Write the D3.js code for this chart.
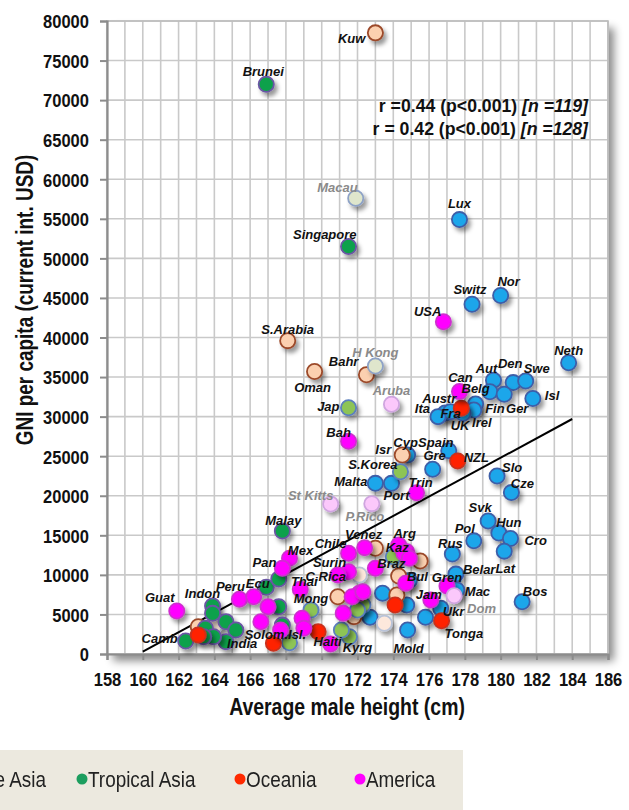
<!DOCTYPE html>
<html>
<head>
<meta charset="utf-8">
<script src="https://cdn.jsdelivr.net/npm/d3@7/dist/d3.min.js"></script>
<style>
  html, body { margin: 0; padding: 0; background: #ffffff; }
  svg { display: block; }
</style>
</head>
<body>
<svg id="chart" width="629" height="810"></svg>
<script>
// ---- data: [label, average male height (cm), GNI per capita (int. USD)] ----
const europe = [
  ["Lux", 177.7, 54900], ["Switz", 178.4, 44200], ["Nor", 180.0, 45300],
  ["Neth", 183.8, 36800], ["Aut", 179.6, 34600], ["Den", 180.7, 34300],
  ["Swe", 181.4, 34500], ["Fin", 179.4, 33150], ["Ger", 180.2, 32830],
  ["Isl", 181.8, 32300], ["Belg", 178.6, 31600], ["Irel", 178.5, 30840],
  ["", 176.9, 30450], ["Fra", 177.2, 30630], ["UK", 177.9, 30420],
  ["Ita", 176.5, 30000], ["Spain", 177.1, 25700], ["Gre", 176.2, 23350],
  ["Cyp", 174.8, 25150], ["Malta", 173.0, 21570], ["Port", 173.9, 21570],
  ["Slo", 179.8, 22500], ["Cze", 180.6, 20400], ["Svk", 179.3, 16800],
  ["Hun", 179.9, 15300], ["Cro", 180.55, 14600], ["Pol", 178.5, 14300],
  ["Lat", 180.2, 13000], ["Rus", 177.3, 12640], ["Belar", 177.5, 10100],
  ["Mac", 177.55, 8090], ["Ukr", 176.65, 5780], ["Bos", 181.2, 6610],
  ["", 175.8, 4640], ["Mold", 174.8, 3030], ["", 173.4, 7670],
  ["", 174.75, 6190], ["", 172.7, 4640], ["Bul", 174.9, 9300]
];
const middleEast = [
  ["Kuw", 173.0, 78500], ["S.Arabia", 168.1, 39600], ["Oman", 169.6, 35700],
  ["Bahr", 172.5, 35300], ["Isr", 174.5, 25150], ["", 173.0, 13360],
  ["", 175.5, 11760], ["", 174.3, 9860], ["", 174.2, 7460],
  ["", 170.9, 7240], ["", 171.8, 4720], ["", 163.1, 3450]
];
const otherRegions = [
  ["", 172.1, 9990], ["", 173.5, 3880], ["", 164.0, 3540]
];
const chinaSars = [
  ["Macau", 171.9, 57600], ["H Kong", 173.0, 36400]
];
const temperateAsia = [
  ["Jap", 171.5, 31130], ["S.Korea", 174.4, 23040], ["Kaz", 174.0, 12300],
  ["Mong", 169.4, 5560], ["Kyrg", 171.55, 2190], ["", 171.1, 3030],
  ["", 172.3, 6190], ["", 172.0, 5560], ["", 168.2, 1430]
];
const tropicalAsia = [
  ["Brunei", 166.9, 72000], ["Singapore", 171.5, 51500], ["Malay", 167.8, 15550],
  ["Indon", 163.9, 6070], ["", 163.9, 5140], ["", 166.9, 8430],
  ["", 167.6, 9480], ["", 167.6, 5980], ["", 167.8, 3650],
  ["Camb", 162.4, 1640], ["", 163.5, 3250], ["", 164.65, 4080],
  ["", 165.2, 3030], ["India", 164.65, 1560], ["", 163.95, 2190],
  ["", 163.4, 2190]
];
const oceania = [
  ["Austr", 177.8, 31060], ["NZL", 177.6, 24400], ["Tonga", 176.7, 4210],
  ["Solom.Isl.", 167.3, 1350], ["", 169.8, 2820], ["", 163.1, 2400],
  ["", 174.1, 6190]
];
const america = [
  ["USA", 176.8, 42000], ["Can", 177.7, 33160], ["Bah", 171.5, 26900],
  ["Trin", 175.3, 20390], ["Chile", 171.5, 12730], ["Venez", 172.4, 13440],
  ["Arg", 174.3, 13780], ["", 174.75, 12930], ["", 174.6, 12730],
  ["", 174.9, 12100], ["Braz", 173.0, 10830], ["Surin", 171.5, 10400],
  ["C.Rica", 170.9, 9990], ["", 174.7, 8940], ["Gren", 177.0, 8600],
  ["Jam", 176.1, 6830], ["Mex", 168.2, 12100], ["Pan", 167.8, 10830],
  ["Thai", 168.8, 8180], ["Guat", 161.9, 5435], ["Peru", 165.4, 6910],
  ["Ecu", 166.2, 7240], ["", 167.0, 5980], ["", 166.6, 4080],
  ["", 167.7, 3030], ["", 168.9, 4510], ["", 169.0, 3250],
  ["Haiti", 170.5, 1260], ["", 171.2, 5140], ["", 172.1, 7670],
  ["", 171.7, 7240], ["", 172.3, 7870]
];
const caribbeanIslands = [
  ["Aruba", 173.9, 31560], ["St Kitts", 170.5, 18960],
  ["P.Rico", 172.8, 19000], ["Dom", 177.4, 7370]
];

// regression line end points (height, GNI)
const trendHeights = [160, 184];
const trendGni = [300, 29700];

// axis ticks
const xTicks = d3.range(158, 187, 2);
const yTicks = d3.range(0, 80001, 5000);

const statLines = [
  ["r =0.44 (p<0.001) ", "[n =119]"],
  ["r = 0.42 (p<0.001)  ", "[n =128]"]
];

const legendLabels = ["Temperate Asia", "Tropical Asia", "Oceania", "America"];

// ---- styles per region ----
const regionStyle = {
  europe:        { fill: "#1ba6ea", stroke: "#3e5ea8" },
  otherRegions:  { fill: "#fde8dc", stroke: "#b9c3d8" },
  middleEast:    { fill: "#fbd0b0", stroke: "#9c4a2a" },
  chinaSars:     { fill: "#dfe6cc", stroke: "#8ea2c6" },
  temperateAsia: { fill: "#8dc455", stroke: "#5b7fbd" },
  tropicalAsia:  { fill: "#10a14c", stroke: "#6a55a4" },
  oceania:       { fill: "#ff2300", stroke: "#c8301c" },
  america:       { fill: "#ff00ff", stroke: "#cf2fcf" },
  caribbean:     { fill: "#fbc8fb", stroke: "#cfa5df" }
};
const drawOrder = [
  ["europe", europe], ["otherRegions", otherRegions], ["middleEast", middleEast],
  ["chinaSars", chinaSars], ["temperateAsia", temperateAsia],
  ["tropicalAsia", tropicalAsia], ["oceania", oceania],
  ["america", america], ["caribbean", caribbeanIslands]
];
const greyLabels = new Set(["Macau", "H Kong", "Aruba", "St Kitts", "P.Rico", "Dom"]);

// label placement relative to each marker: [anchor, dx, dy]
const labelPlacement = {
  "Brunei": ["middle", -3, -8], "Kuw": ["end", -10, 10], "Macau": ["end", 2, -6],
  "Singapore": ["end", 8, -8], "Lux": ["middle", 0, -12], "Switz": ["middle", -2, -10],
  "Nor": ["middle", 8, -10], "USA": ["end", -2, -6], "Neth": ["middle", 0, -8],
  "Aut": ["middle", -7, -7], "Den": ["middle", -3, -15], "Swe": ["middle", 11, -8],
  "Can": ["middle", 1, -10], "Belg": ["middle", 0, -11], "Isl": ["start", 12, 2],
  "Fin": ["middle", 5, 21], "Ger": ["middle", 13, 19], "Irel": ["middle", 8, 17],
  "Austr": ["end", -5, -5], "Ita": ["end", -8, -4], "Fra": ["middle", 0, 6],
  "UK": ["middle", -3, 17], "Spain": ["middle", -13, -4], "Cyp": ["middle", -2, -8],
  "Isr": ["end", -11, -1], "Gre": ["middle", 2, -9], "NZL": ["start", 6, 1],
  "Slo": ["start", 5, -4], "Cze": ["middle", 11, -5], "Svk": ["middle", -8, -9],
  "Hun": ["middle", 10, -6], "Cro": ["start", 14, 7], "Pol": ["middle", -9, -8],
  "Lat": ["middle", 1, 22], "Rus": ["middle", -2, -6], "Belar": ["start", 7, 0],
  "Gren": ["middle", 0, -4], "Mac": ["start", 8, 6], "Dom": ["start", 13, 17],
  "Jam": ["middle", -2, -1], "Ukr": ["start", 2, 8], "Tonga": ["start", 3, 17],
  "Bos": ["middle", 13, -6], "Mold": ["middle", 1, 23], "Kyrg": ["middle", 8, 15],
  "Haiti": ["middle", -3, 2], "Solom.Isl.": ["middle", 2, -4], "India": ["start", 1, 6],
  "Camb": ["end", -8, 2], "Guat": ["middle", -17, -9], "Indon": ["middle", -10, -8],
  "Peru": ["middle", -9, -8], "Ecu": ["middle", 4, -9], "Pan": ["end", -6, -1],
  "Mex": ["middle", 11, -3], "Malay": ["middle", 1, -6], "Thai": ["middle", 4, -3],
  "Mong": ["middle", 0, -7], "C.Rica": ["middle", -12, 6], "Surin": ["middle", -19, -5],
  "Chile": ["middle", -18, -5], "Venez": ["middle", -1, -9], "Arg": ["middle", 6, -7],
  "Kaz": ["middle", 4, -5], "Braz": ["middle", 16, 0], "Bul": ["middle", 8, 1],
  "Port": ["middle", 5, 17], "Trin": ["middle", 4, -6], "Malta": ["end", -8, 3],
  "S.Korea": ["end", -3, -3], "Bah": ["middle", -10, -4], "Jap": ["end", -9, 3],
  "Aruba": ["middle", 0, -9], "H Kong": ["middle", 0, -9], "Bahr": ["end", -8, -9],
  "Oman": ["middle", -2, 20], "S.Arabia": ["middle", 0, -7], "St Kitts": ["middle", -20, -4],
  "P.Rico": ["middle", -7, 17]
};

// ---- layout ----
const svg = d3.select("#chart");
const plot = { left: 107, right: 608, top: 21, bottom: 654 };
const x = d3.scaleLinear().domain([158, 186]).range([plot.left, plot.right]);
const y = d3.scaleLinear().domain([0, 80000]).range([plot.bottom, plot.top]);

const SANS = "'Liberation Sans', Arial, Helvetica, sans-serif";

// condensed text: draw at (px, py) and squeeze horizontally by sx
function squeezedText(parent, px, py, sx, anchor, str) {
  return parent.append("text")
    .attr("transform", `translate(${px},${py}) scale(${sx},1)`)
    .attr("text-anchor", anchor)
    .style("font-family", SANS)
    .text(str);
}

const defs = svg.append("defs");
const frameShadow = defs.append("filter").attr("id", "frameShadow")
  .attr("x", "-5%").attr("y", "-5%").attr("width", "115%").attr("height", "115%");
frameShadow.append("feDropShadow").attr("dx", 6).attr("dy", 7)
  .attr("stdDeviation", 4).attr("flood-color", "#000").attr("flood-opacity", 0.45);
const dotShadow = defs.append("filter").attr("id", "dotShadow")
  .attr("x", "-60%").attr("y", "-60%").attr("width", "240%").attr("height", "240%");
dotShadow.append("feDropShadow").attr("dx", 3).attr("dy", 4)
  .attr("stdDeviation", 2.2).attr("flood-color", "#000").attr("flood-opacity", 0.4);
const soft = defs.append("filter").attr("id", "soft");
soft.append("feGaussianBlur").attr("stdDeviation", 0.45);

// plot background with its shadow
svg.append("rect")
  .attr("x", plot.left).attr("y", plot.top)
  .attr("width", plot.right - plot.left).attr("height", plot.bottom - plot.top)
  .attr("fill", "#ffffff").attr("filter", "url(#frameShadow)");

// grid: every centimetre and every 5000 USD
const grid = svg.append("g").attr("stroke", "#c9c9c9").attr("stroke-width", 1.6);
grid.selectAll("line.v").data(d3.range(158, 187, 1)).join("line")
  .attr("x1", d => x(d)).attr("x2", d => x(d))
  .attr("y1", plot.top).attr("y2", plot.bottom);
grid.selectAll("line.h").data(yTicks).join("line")
  .attr("x1", plot.left).attr("x2", plot.right)
  .attr("y1", d => y(d)).attr("y2", d => y(d));
svg.append("rect")
  .attr("x", plot.left).attr("y", plot.top)
  .attr("width", plot.right - plot.left).attr("height", plot.bottom - plot.top)
  .attr("fill", "none").attr("stroke", "#bdbdbd").attr("stroke-width", 1.6);

// axes
const tickSx = 0.87;
const yAxis = svg.append("g").attr("transform", `translate(${plot.left},0)`)
  .call(d3.axisLeft(y).tickValues(yTicks).tickFormat(d3.format("d")).tickSize(7).tickPadding(11));
const xAxis = svg.append("g").attr("transform", `translate(0,${plot.bottom})`)
  .call(d3.axisBottom(x).tickValues(xTicks).tickFormat(d3.format("d")).tickSize(6).tickPadding(13));
[yAxis, xAxis].forEach(g => {
  g.select(".domain").attr("stroke", "#8c8c8c").attr("stroke-width", 2.2);
  g.selectAll(".tick line").attr("stroke", "#8c8c8c").attr("stroke-width", 2);
  g.selectAll(".tick text")
    .attr("fill", "#111").style("font-family", SANS)
    .style("font-size", "19px").style("font-weight", "bold");
});
yAxis.selectAll(".tick text").attr("dy", "0.36em")
  .attr("x", -18 / tickSx).attr("transform", `scale(${tickSx},1)`);
xAxis.selectAll(".tick text").attr("transform", `scale(${tickSx},1)`);

// axis titles
squeezedText(svg, 347, 715, 0.81, "middle", "Average male height (cm)")
  .style("font-size", "24px").style("font-weight", "bold").attr("fill", "#111");
svg.append("text")
  .attr("transform", `translate(33,300) rotate(-90) scale(0.79,1)`)
  .attr("text-anchor", "middle")
  .style("font-family", SANS).style("font-size", "24px").style("font-weight", "bold")
  .attr("fill", "#111").text("GNI per capita (current int. USD)");

// regression line
svg.append("line")
  .attr("x1", x(trendHeights[0])).attr("y1", y(trendGni[0]))
  .attr("x2", x(trendHeights[1])).attr("y2", y(trendGni[1]))
  .attr("stroke", "#000").attr("stroke-width", 2);

// markers
const dots = svg.append("g");
drawOrder.forEach(([key, rows]) => {
  const st = regionStyle[key];
  dots.append("g").selectAll("circle").data(rows).join("circle")
    .attr("cx", d => x(d[1])).attr("cy", d => y(d[2])).attr("r", 7.6)
    .attr("fill", st.fill).attr("stroke", st.stroke).attr("stroke-width", 1.8)
    .attr("filter", "url(#dotShadow)");
});

// marker labels
const labelled = drawOrder.flatMap(([, rows]) => rows).filter(d => d[0] && labelPlacement[d[0]]);
svg.append("g").selectAll("text").data(labelled).join("text")
  .attr("x", d => x(d[1]) + labelPlacement[d[0]][1])
  .attr("y", d => y(d[2]) + labelPlacement[d[0]][2])
  .attr("text-anchor", d => labelPlacement[d[0]][0])
  .style("font-family", SANS).style("font-size", "13px")
  .style("font-weight", "bold").style("font-style", "italic")
  .attr("fill", d => greyLabels.has(d[0]) ? "#8a8a8a" : "#111")
  .text(d => d[0]);

// correlation statistics
const stats = svg.append("g");
statLines.forEach((parts, i) => {
  const t = squeezedText(stats, 588, 112 + i * 22.5, 0.93, "end", null)
    .style("font-size", "19px").style("font-weight", "bold").attr("fill", "#111");
  t.append("tspan").text(parts[0]);
  t.append("tspan").style("font-style", "italic").text(parts[1]);
});

// legend strip (its left part runs past the page edge)
const legend = svg.append("g").attr("filter", "url(#soft)");
legend.append("rect").attr("x", -10).attr("y", 750).attr("width", 473).attr("height", 70)
  .attr("fill", "#ece9df");
const legendColors = ["#8dc455", "#1f9e5e", "#ff2a00", "#ff00ff"];
const legendDotX = [-80, 82, 240, 360];
legendLabels.forEach((lab, i) => {
  legend.append("circle").attr("cx", legendDotX[i]).attr("cy", 779).attr("r", 5.5)
    .attr("fill", legendColors[i]);
  const tx = i === 0 ? 46 : legendDotX[i] + 6;
  squeezedText(legend, tx, 787, 0.86, i === 0 ? "end" : "start", lab)
    .style("font-size", "22px").attr("fill", "#222");
});
</script>
</body>
</html>
